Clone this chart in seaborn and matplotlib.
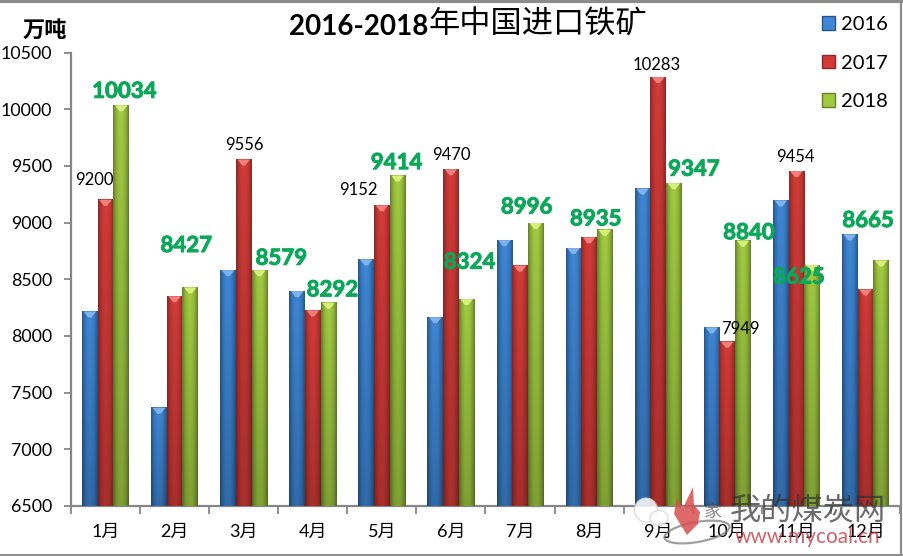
import numpy as np
import pandas as pd
import matplotlib.pyplot as plt
import matplotlib.patheffects as pe
import seaborn as sns
from matplotlib.colors import to_rgb
from matplotlib.lines import Line2D
from matplotlib.patches import Ellipse, Patch, Polygon

months = ["1月", "2月", "3月", "4月", "5月", "6月", "7月", "8月", "9月", "10月", "11月", "12月"]
years = ["2016", "2017", "2018"]
v2016 = [8215, 7365, 8580, 8395, 8675, 8165, 8845, 8775, 9300, 8075, 9195, 8895]
v2017 = [9200, 8350, 9556, 8225, 9152, 9470, 8620, 8870, 10283, 7949, 9454, 8410]
v2018 = [10034, 8427, 8579, 8292, 9414, 8324, 8996, 8935, 9347, 8840, 8625, 8665]
yticks = [6500, 7000, 7500, 8000, 8500, 9000, 9500, 10000, 10500]

# edge colour, centre colour of each cylinder
edge_cols = ["#24568c", "#8c2826", "#667f2c"]
mid_cols = ["#3f86d4", "#d23b38", "#a0ca40"]
top_cols = ["#7fb2ea", "#f27f7a", "#d8ee7a"]

# label offsets from the top centre of the bar, in pixels
off_2017 = [(-11, 20), (0, 0), (1, 15), (0, 0), (-23, 15), (0, 14), (0, 0), (0, 0), (-2, 12), (13, 13), (-1, 14), (0, 0)]
off_2018 = [(3, 14), (-4, 42), (22, 12), (4, 13), (-1, 13), (3, 37), (-9, 16), (-9, 11), (20, 14), (6, 8), (-13, -12), (-13, 40)]
show_2017 = [True, False, True, False, True, True, False, False, True, True, True, False]

sns.set_theme(style="white")
plt.rcParams["font.family"] = ["Lato", "Noto Sans CJK SC", "DejaVu Sans"]

df = pd.DataFrame({
    "month": months * 3,
    "year": np.repeat(years, 12),
    "value": v2016 + v2017 + v2018,
})

fig = plt.figure(figsize=(9.04, 5.56), dpi=100)
ax = fig.add_axes([71 / 904, 50 / 556, 829 / 904, 453.5 / 556])
sns.barplot(data=df, x="month", y="value", hue="year", hue_order=years, order=months,
            width=0.68, gap=0, saturation=1, palette=mid_cols, legend=False, ax=ax)
px = 4000 / 453.5


def cylinder(edge, mid):
    edge, mid = np.array(to_rgb(edge)), np.array(to_rgb(mid))
    t = 1 - np.abs(np.linspace(-1, 1, 32)) ** 2.2
    row = edge + (mid - edge) * t[:, None]
    fade = np.linspace(1.0, 0.8, 64)[:, None, None]
    return np.clip(row[None, :, :] * fade, 0, 1)


bars = [b for b in ax.patches if b.get_height() > 0]
for i, year in enumerate(years):
    img = cylinder(edge_cols[i], mid_cols[i])
    for b in bars[i * 12:(i + 1) * 12]:
        x0, w, top = b.get_x(), b.get_width(), b.get_y() + b.get_height()
        b.set_alpha(0)
        ax.imshow(img, extent=(x0, x0 + w, 6500, top), aspect="auto", zorder=3, interpolation="bilinear")
        ax.add_patch(Polygon([(x0 + w * 0.1, top), (x0 + w * 0.9, top), (x0 + w * 0.6, top - 6 * px), (x0 + w * 0.4, top - 6 * px)],
                             closed=True, fc=top_cols[i], ec="none", zorder=4))
ax.set_xlim(-0.5, 11.5)
ax.set_ylim(6500, 10500)

# data labels
for j in range(12):
    b = bars[12 + j]
    if show_2017[j]:
        ax.annotate(str(v2017[j]), (b.get_x() + b.get_width() / 2, v2017[j]),
                    xytext=(off_2017[j][0] * 0.72, off_2017[j][1] * 0.72), textcoords="offset points",
                    ha="center", va="center", fontsize=12, color="black", zorder=6)
    b = bars[24 + j]
    ax.annotate(str(v2018[j]), (b.get_x() + b.get_width() / 2, v2018[j]),
                xytext=(off_2018[j][0] * 0.72, off_2018[j][1] * 0.72), textcoords="offset points",
                ha="center", va="center", fontsize=16, fontweight="bold", color="#0aa858", zorder=6,
                path_effects=[pe.withStroke(linewidth=0.7, foreground="#0aa858")])

# axes
for s in ["top", "right"]:
    ax.spines[s].set_visible(False)
for s in ["left", "bottom"]:
    ax.spines[s].set_color("#868686")
    ax.spines[s].set_linewidth(1.6)
ax.set_xlabel("")
ax.set_ylabel("")
ax.set_yticks(yticks)
ax.tick_params(axis="y", length=5, width=1.3, color="#868686", labelsize=12.8, labelcolor="black", left=True, pad=8.5)
ax.set_xticks(range(12))
ax.set_xticks(np.arange(-0.5, 12, 1), minor=True)
ax.tick_params(axis="x", which="major", length=0, labelsize=13, labelcolor="black", pad=13)
ax.tick_params(axis="x", which="minor", length=6, width=1.3, color="#868686", bottom=True)

# title is heavy for the digits and light for the Chinese part
fig.text(289 / 904, 1 - 27 / 556, "2016-2018", ha="left", va="center", fontsize=20, fontweight="bold", color="black")
fig.text(429 / 904, 1 - 25 / 556, "年中国进口铁矿", ha="left", va="center", fontsize=22.5, color="black",
         family=["Noto Sans CJK SC", "DejaVu Sans"])
fig.text(45 / 904, 1 - 30 / 556, "万吨", ha="center", va="center", fontsize=16, fontweight="bold", color="black")

handles = [Patch(fc=mid_cols[i], ec=edge_cols[i], label=years[i]) for i in range(3)]
fig.legend(handles=handles, loc="upper right", bbox_to_anchor=(898 / 904, 1 - 6 / 556), frameon=False,
           fontsize=14.5, handlelength=0.65, handleheight=0.65, handletextpad=0.32, labelspacing=1.07,
           borderpad=0, labelcolor="black")

# picture frame
for xs, ys, lw in [([0, 1], [0.998, 0.998], 3), ([901 / 904] * 2, [0, 1], 1.6), ([0, 1], [1 / 556, 1 / 556], 1.4)]:
    fig.add_artist(Line2D(xs, ys, color="#8c8c8c", lw=lw))

# watermark in the lower right corner
wm = fig.add_axes([0, 0, 1, 1], facecolor="none")
wm.set_xlim(0, 904)
wm.set_ylim(556, 0)
wm.axis("off")
wm.add_patch(Ellipse((646, 510), 23, 24, fc="white", ec="#d0d0d0", lw=0.8, alpha=0.85))
wm.add_patch(Ellipse((659, 518), 18, 15, fc="white", ec="#d0d0d0", lw=0.8, alpha=0.85))
wm.add_patch(Ellipse((697, 532), 66, 20, angle=-10, fc="none", ec="#777777", lw=1.6, alpha=0.7))
wm.add_patch(Polygon([(687, 535), (674, 514), (677, 498), (683, 508), (693, 487), (694, 505), (700, 512),
                      (698, 524)], closed=True, fc="#d8504e", ec="none", alpha=0.85))
wm.text(713, 512, "家", fontsize=13, color="#444444", alpha=0.65, ha="center", va="center")
wm.text(808, 510, "我的煤炭网", fontsize=22.5, color="#333333", alpha=0.72, ha="center", va="center")
wm.text(807, 537, "www.mycoal.cn", fontsize=15, color="#c23a46", alpha=0.8, ha="center", va="center")

fig.savefig("out.png", dpi=100, facecolor="white")
